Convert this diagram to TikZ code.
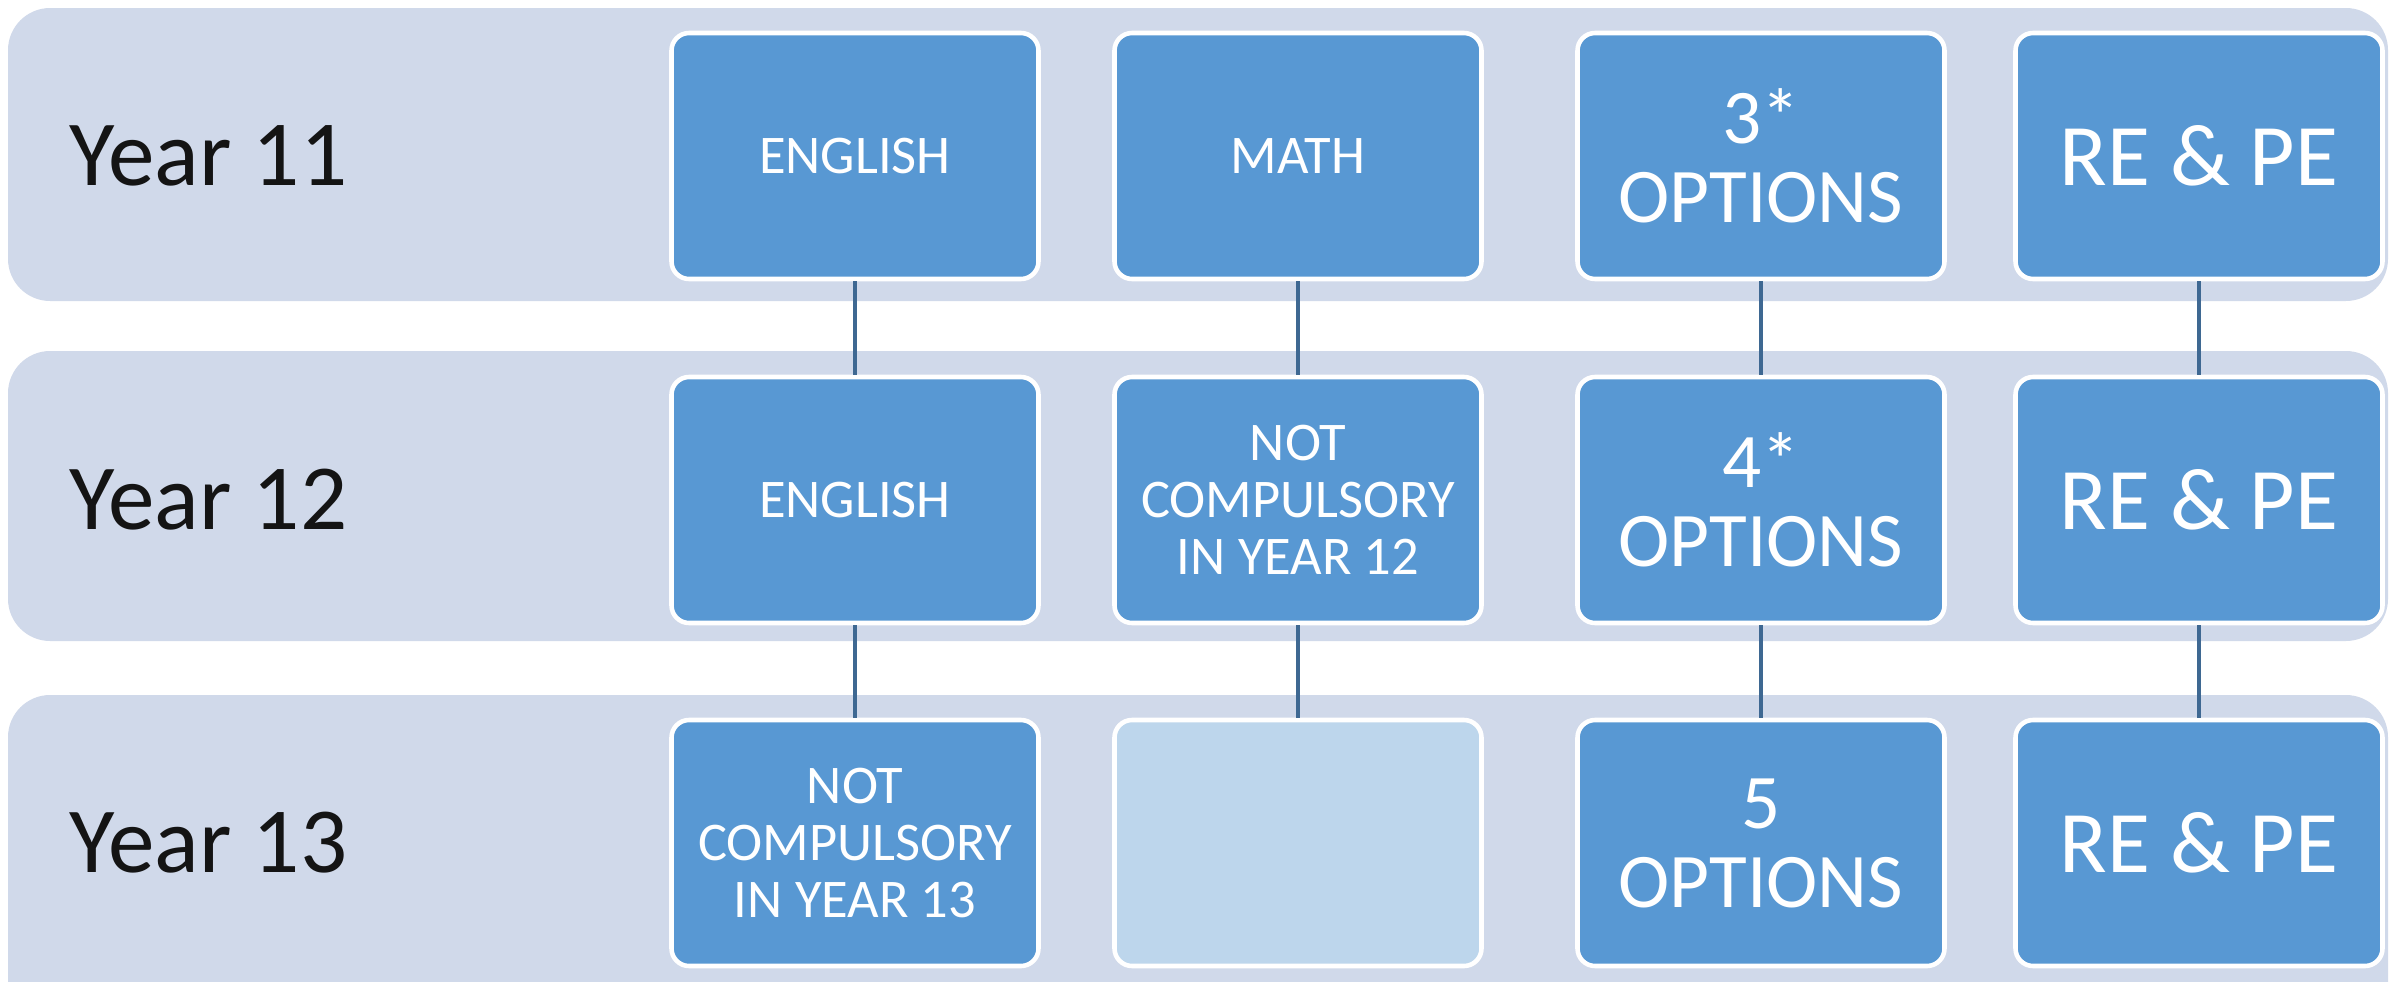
\documentclass[tikz,border=0pt]{standalone}
\usepackage{fontspec}
\setmainfont{Carlito}
\usetikzlibrary{calc}

\definecolor{bandgrey}{RGB}{208,217,234}
\definecolor{boxblue}{RGB}{88,152,211}
\definecolor{paleblue}{RGB}{189,214,236}
\definecolor{linkblue}{RGB}{62,104,146}

\tikzset{
    year/.style={anchor=west, inner sep=0pt, text=black!92, font=\fontsize{26.5}{30}\selectfont},
    subj/.style={draw=white, line width=1.3pt, fill=boxblue, rounded corners=5pt,
        minimum width=3.67cm, minimum height=2.46cm, inner sep=0pt, align=center,
        text=white, font=\fontsize{15.5}{16.2}\selectfont},
    optsize/.style={font=\fontsize{22}{22.5}\selectfont},
    repe/.style={font=\fontsize{25}{28}\selectfont},
    link/.style={linkblue, line width=1.1pt}
}

\begin{document}
\begin{tikzpicture}
    \useasboundingbox (0,0) rectangle (23.95,-9.81);
    \clip (0,0) rectangle (23.95,-9.81);
    \fill[white] (0,0) rectangle (23.95,-9.81);
    % row bands
    \foreach \top/\bot in {-0.08/-3.01, -3.51/-6.41, -6.95/-10.3}
        \fill[bandgrey, rounded corners=12pt] (0.08,\top) rectangle (23.88,\bot);

    \node[year] (y11) at (0.69,-1.56) {Year 11};
    \node[year] (y12) at (0.69,-5.00) {Year 12};
    \node[year] (y13) at (0.69,-8.43) {Year 13};

    % year 11
    \node[subj] (eng11) at (8.55,-1.56) {ENGLISH};
    \node[subj] (math11) at (12.98,-1.56) {MATH};
    \node[subj, optsize] (opt11) at (17.61,-1.56) {3*\\OPTIONS};
    \node[subj, repe] (rp11) at (21.99,-1.56) {RE \& PE};
    % year 12
    \node[subj] (eng12) at (8.55,-5.00) {ENGLISH};
    \node[subj] (math12) at (12.98,-5.00) {NOT\\COMPULSORY\\IN YEAR 12};
    \node[subj, optsize] (opt12) at (17.61,-5.00) {4*\\OPTIONS};
    \node[subj, repe] (rp12) at (21.99,-5.00) {RE \& PE};
    % year 13
    \node[subj] (eng13) at (8.55,-8.43) {NOT\\COMPULSORY\\IN YEAR 13};
    \node[subj, fill=paleblue] (math13) at (12.98,-8.43) {};
    \node[subj, optsize] (opt13) at (17.61,-8.43) {5\\OPTIONS};
    \node[subj, repe] (rp13) at (21.99,-8.43) {RE \& PE};

    \foreach \a/\b in {eng11/eng12, eng12/eng13, math11/math12, math12/math13,
                       opt11/opt12, opt12/opt13, rp11/rp12, rp12/rp13}
        \draw[link] (\a) -- (\b);
\end{tikzpicture}
\end{document}
